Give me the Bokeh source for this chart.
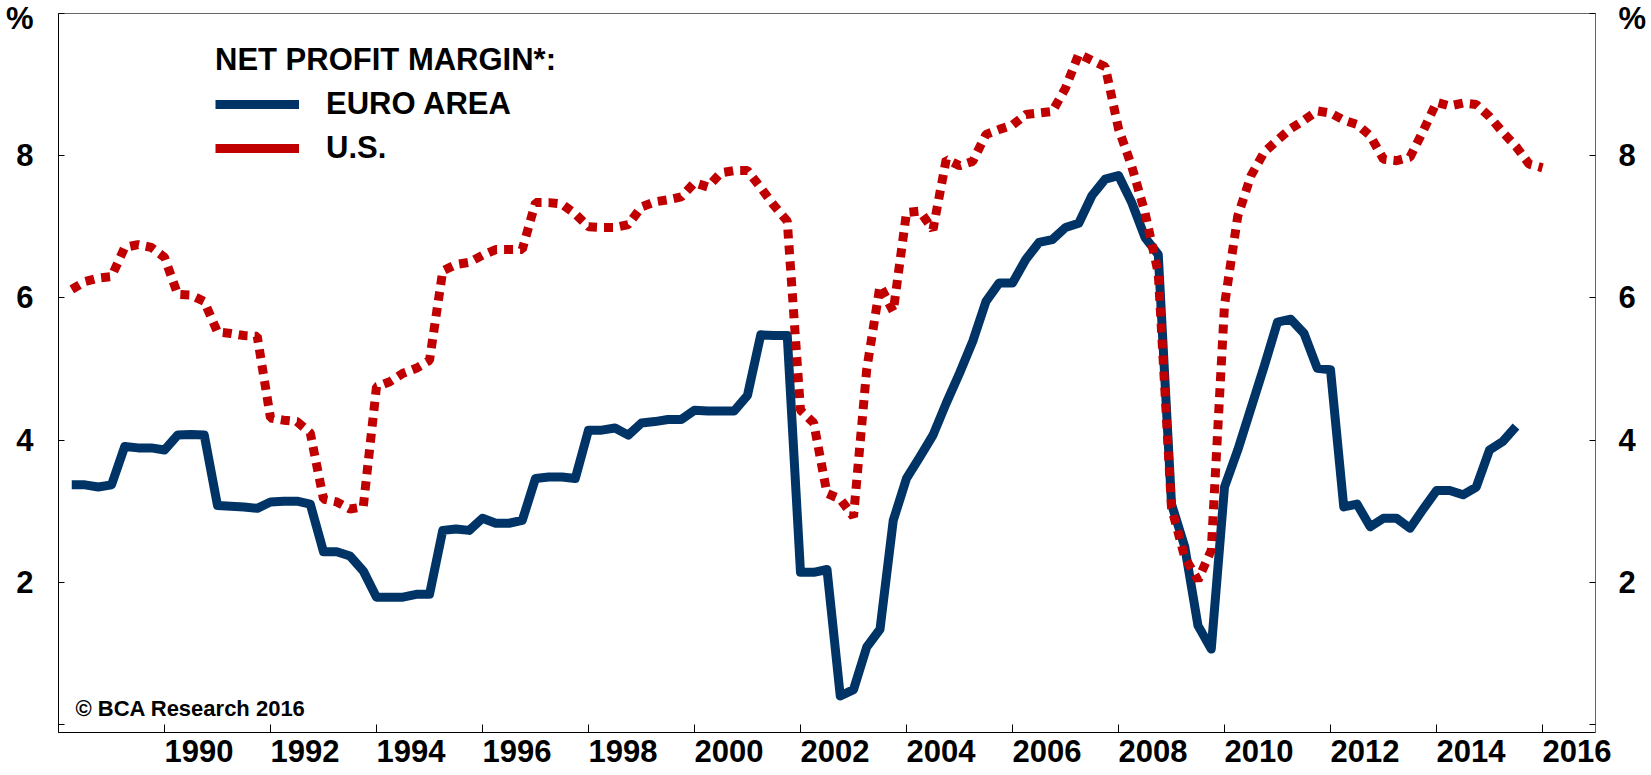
from bokeh.plotting import figure
from bokeh.models import Range1d, LinearAxis, FixedTicker, Legend, LegendItem, Label
from bokeh.embed import file_html
from bokeh.resources import INLINE

# ---------------- data ----------------
first_quarter = 1988.25          # first observation (quarterly data)

euro_area = [
    3.37, 3.37, 3.34,
    3.37, 3.91, 3.89, 3.89,   # 1989
    3.86, 4.07, 4.08, 4.07,   # 1990
    3.08, 3.07, 3.06, 3.04,   # 1991
    3.13, 3.14, 3.14, 3.10,   # 1992
    2.43, 2.43, 2.37, 2.16,   # 1993
    1.79, 1.79, 1.79, 1.83,   # 1994
    1.83, 2.73, 2.75, 2.73,   # 1995
    2.90, 2.83, 2.83, 2.87,   # 1996
    3.46, 3.48, 3.48, 3.46,   # 1997
    4.14, 4.14, 4.17, 4.07,   # 1998
    4.24, 4.26, 4.29, 4.29,   # 1999
    4.42, 4.41, 4.41, 4.41,   # 2000
    4.63, 5.48, 5.47, 5.47,   # 2001
    2.14, 2.14, 2.18, 0.40,   # 2002
    0.49, 1.09, 1.34, 2.87,   # 2003
    3.46, 3.76, 4.07, 4.52,   # 2004
    4.94, 5.39, 5.95, 6.21,   # 2005
    6.21, 6.54, 6.78, 6.82,   # 2006
    6.99, 7.05, 7.44, 7.67,   # 2007
    7.72, 7.34, 6.85, 6.61,   # 2008
    3.10, 2.50, 1.39, 1.06,   # 2009
    3.34, 3.86, 4.45, 5.04,   # 2010
    5.66, 5.70, 5.50, 5.01,   # 2011
    4.99, 3.06, 3.10, 2.78,   # 2012
    2.90, 2.90, 2.76, 3.03,   # 2013
    3.29, 3.29, 3.23, 3.34,   # 2014
    3.86, 3.98, 4.19,         # 2015
]

us = [
    6.12, 6.23, 6.28,
    6.30, 6.71, 6.75, 6.71,   # 1989
    6.57, 6.05, 6.04, 5.95,   # 1990
    5.52, 5.50, 5.47, 5.46,   # 1991
    4.31, 4.28, 4.26, 4.10,   # 1992
    3.17, 3.13, 3.03, 3.06,   # 1993
    4.75, 4.82, 4.94, 5.01,   # 1994
    5.12, 6.38, 6.47, 6.50,   # 1995
    6.60, 6.68, 6.68, 6.68,   # 1996
    7.34, 7.34, 7.32, 7.18,   # 1997
    7.00, 6.99, 6.99, 7.03,   # 1998
    7.28, 7.35, 7.38, 7.42,   # 1999
    7.62, 7.56, 7.76, 7.79,   # 2000
    7.79, 7.55, 7.30, 7.08,   # 2001
    4.42, 4.24, 3.25, 3.17,   # 2002
    2.92, 5.00, 6.17, 5.81,   # 2003
    7.20, 7.22, 6.96, 7.95,   # 2004
    7.86, 7.92, 8.30, 8.37,   # 2005
    8.43, 8.58, 8.60, 8.62,   # 2006
    8.95, 9.43, 9.34, 9.25,   # 2007
    8.38, 7.85, 7.20, 6.35,   # 2008
    3.05, 2.35, 2.03, 2.45,   # 2009
    5.90, 7.15, 7.72, 8.05,   # 2010
    8.22, 8.38, 8.50, 8.63,   # 2011
    8.60, 8.50, 8.44, 8.28,   # 2012
    7.95, 7.93, 7.98, 8.35,   # 2013
    8.75, 8.70, 8.74, 8.72,   # 2014
    8.55, 8.33, 8.13, 7.88,   # 2015
    7.83,                     # 2016
]

x_tick_years = [1990, 1992, 1994, 1996, 1998, 2000, 2002, 2004, 2006,
                2008, 2010, 2012, 2014, 2016]
y_tick_values = [0, 2, 4, 6, 8, 10]
y_tick_labels = ["", "2", "4", "6", "8", "%"]

legend_title = "NET PROFIT MARGIN*:"
series_names = ["EURO AREA", "U.S."]
credit = "\u00a9 BCA Research 2016"

# ---------------- styling ----------------
BLUE = "#003466"
RED = "#C00000"
FONT = "Liberation Sans"
NAN = float("nan")

euro_x = [first_quarter + 0.25 * i for i in range(len(euro_area))]
us_x = [first_quarter + 0.25 * i for i in range(len(us))]

p = figure(width=1651, height=775, output_backend="svg", toolbar_location=None,
           x_range=Range1d(1988.0, 2017.0), y_range=Range1d(-0.113, 10.0),
           min_border_left=58, min_border_right=56, min_border_top=13,
           min_border_bottom=43)
p.grid.visible = False
p.outline_line_color = "#666666"
p.outline_line_width = 1
p.background_fill_color = "white"
p.border_fill_color = "white"

# x axis: tick marks at the years (inward); the labels sit just right of
# each tick (they start at the tick, as in the original)
label_shift = 0.65
xaxis = p.xaxis[0]
xaxis.ticker = FixedTicker(ticks=[y + label_shift for y in x_tick_years],
                           minor_ticks=x_tick_years)
xaxis.major_label_overrides = {y + label_shift: str(y) for y in x_tick_years}
xaxis.major_tick_in = 0
xaxis.major_tick_out = 0
xaxis.minor_tick_in = 8
xaxis.minor_tick_out = 0
xaxis.minor_tick_line_color = "black"
xaxis.axis_line_color = "black"
xaxis.major_label_standoff = 7
xaxis.major_label_text_font = FONT
xaxis.major_label_text_font_style = "bold"
xaxis.major_label_text_font_size = "31px"
xaxis.major_label_text_color = "black"

def style_y(ax, standoff, line_color):
    ax.ticker = FixedTicker(ticks=y_tick_values)
    ax.major_label_overrides = dict(zip(y_tick_values, y_tick_labels))
    ax.major_tick_in = 6
    ax.major_tick_out = 0
    ax.minor_tick_line_color = None
    ax.major_tick_line_color = "black"
    ax.axis_line_color = line_color
    ax.major_label_standoff = standoff
    ax.major_label_text_font = FONT
    ax.major_label_text_font_style = "bold"
    ax.major_label_text_font_size = "31px"
    ax.major_label_text_color = "black"

style_y(p.yaxis[0], 25, "black")
right_axis = LinearAxis()
style_y(right_axis, 23, "#666666")
p.add_layout(right_axis, "right")

# data lines
p.line(euro_x, euro_area, line_color=BLUE, line_width=9, line_join="round")
p.line(us_x, us, line_color=RED, line_width=9, line_dash="9 7", line_cap="butt")

# legend (solid swatches, as in the original)
sw_euro = p.line([NAN], [NAN], line_color=BLUE, line_width=9)
sw_us = p.line([NAN], [NAN], line_color=RED, line_width=9)
legend = Legend(items=[LegendItem(label=series_names[0], renderers=[sw_euro]),
                       LegendItem(label=series_names[1], renderers=[sw_us])],
                title=legend_title, location=(157, 566),
                border_line_alpha=0, background_fill_alpha=0,
                padding=0, margin=0, spacing=8, title_standoff=8,
                glyph_width=84, glyph_height=34, label_height=34,
                label_standoff=27,
                label_text_font=FONT, label_text_font_style="bold",
                label_text_font_size="31px", label_text_color="black",
                title_text_font=FONT, title_text_font_style="bold",
                title_text_font_size="31px", title_text_color="black")
p.add_layout(legend)

p.add_layout(Label(x=1988.32, y=0.23, text=credit, text_font=FONT,
                   text_font_style="bold", text_font_size="22px",
                   text_baseline="alphabetic", text_color="black"))

open("out.html", "w").write(file_html(p, INLINE))
